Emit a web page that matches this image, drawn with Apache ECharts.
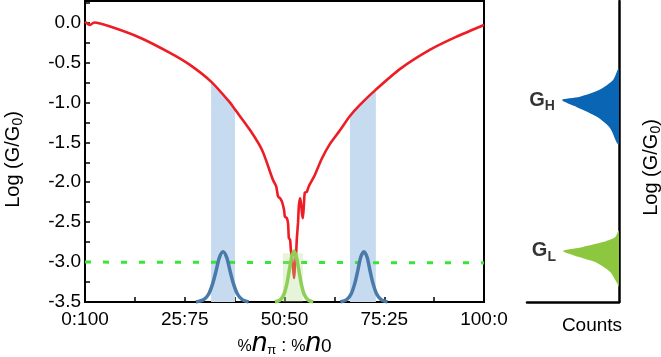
<!DOCTYPE html>
<html>
<head>
<meta charset="utf-8">
<script src="https://cdn.jsdelivr.net/npm/echarts@6/dist/echarts.min.js"></script>
<style>
html, body { margin: 0; padding: 0; background: #fff; }
#chart { width: 661px; height: 357px; }
</style>
</head>
<body>
<div id="chart"></div>
<script>
// tick labels of the mixing axis (% n_pi : % n_0)
const xTickLabels = ['0:100', '25:75', '50:50', '75:25', '100:0'];

// red conductance trace
const curveX = [0, 1.25, 2.3, 6.3, 13.8, 21.3, 26.3, 31.6, 36.3, 37.6, 41.4, 44.4, 47.1, 47.9, 48.4, 48.9,
  49.4, 49.9, 50.1, 50.6, 50.9, 51.1, 51.4, 51.6, 51.9, 52.1, 52.4, 52.6, 52.9, 53.1, 53.4, 53.6, 53.9,
  54.1, 54.4, 54.6, 54.9, 55.1, 55.6, 56.1, 57.4, 59.4, 61.4, 63.9, 66.4, 68.9, 72.9, 79.0, 86.5, 93.0, 100];
const curveY = [0.01, -0.03, 0.0, -0.05, -0.19, -0.38, -0.53, -0.74, -1.0, -1.09, -1.35, -1.6, -1.97, -2.05, -2.18, -2.2,
  -2.25, -2.35, -2.43, -2.45, -2.52, -2.7, -2.72, -2.85, -2.95, -3.05, -3.2, -3.05, -2.9, -2.7, -2.5, -2.3, -2.2,
  -2.25, -2.4, -2.45, -2.25, -2.13, -2.12, -2.05, -1.93, -1.7, -1.52, -1.35, -1.17, -1.03, -0.84, -0.58, -0.34, -0.18, -0.03];

// shaded blue windows (under the trace)
const bandStart = [31.6, 66.4];
const bandEnd = [37.6, 72.9];

// shaded green window
const lowBandX = [49.6, 54.6];
const lowBandTop = -2.89;

// dashed green threshold
const thresholdX = [0, 100];
const thresholdY = [-3.0, -3.01];

// peaks drawn in the main plot
const peakLeftX = [27.8, 29.8, 31.0, 32.0, 32.9, 33.7, 34.6, 35.5, 36.3, 37.2, 38.2, 39.4, 41.0];
const peakLeftY = [-3.5, -3.47, -3.4, -3.27, -3.1, -2.94, -2.87, -2.94, -3.1, -3.27, -3.4, -3.47, -3.5];
const peakRightX = [64.0, 65.6, 66.7, 67.6, 68.4, 69.1, 69.9, 70.7, 71.4, 72.2, 73.1, 74.2, 75.8];
const peakRightY = [-3.5, -3.47, -3.4, -3.27, -3.1, -2.94, -2.87, -2.94, -3.1, -3.27, -3.4, -3.47, -3.5];
const peakMidX = [47.6, 49.0, 49.9, 50.6, 51.2, 51.8, 52.4, 53.0, 53.6, 54.2, 54.9, 55.8, 57.2];
const peakMidY = [-3.5, -3.47, -3.4, -3.27, -3.1, -2.94, -2.86, -2.94, -3.1, -3.27, -3.4, -3.47, -3.5];

// side histogram (counts vs log G)
const histHighCounts = [0, 6.5, 20.7, 42.4, 62, 45.7, 23.9, 9.8, 2.2, 0];
const histHighLog = [-0.57, -0.72, -0.84, -0.93, -0.97, -1.06, -1.18, -1.32, -1.51, -1.53];
const histLowCounts = [0, 4.3, 17.4, 39.1, 60.9, 42.4, 23.9, 9.8, 2.2, 0];
const histLowLog = [-2.6, -2.69, -2.75, -2.81, -2.86, -2.94, -3.01, -3.12, -3.26, -3.31];
const histLabels = ['H', 'L'];
const histTipCounts = [62, 60.9];
const histTipLog = [-0.97, -2.86];

const font = 'Liberation Sans, Arial, Helvetica, sans-serif';
const zip = (xs, ys) => xs.map((x, i) => [x, ys[i]]);
const curve = zip(curveX, curveY);
const band = i => curve.filter(p => p[0] >= bandStart[i] && p[0] <= bandEnd[i]);

const polygonSeries = (counts, logs, color) => ({
  type: 'custom',
  xAxisIndex: 1,
  yAxisIndex: 1,
  clip: true,
  silent: true,
  data: zip(counts, logs),
  encode: { x: 0, y: 1 },
  renderItem: (params, api) => {
    if (params.dataIndexInside !== 0) return null;
    const pts = [];
    for (let i = 0; i < params.dataInsideLength; i++) {
      pts.push(api.coord([api.value(0, i), api.value(1, i)]));
    }
    return { type: 'polygon', shape: { points: pts, smooth: 0.25 }, style: { fill: color } };
  }
});

const peakSeries = (xs, ys, color) => ({
  type: 'line',
  data: zip(xs, ys),
  smooth: 0.3,
  symbol: 'none',
  lineStyle: { color: color, width: 3.5 },
  z: 6
});

const logName = {
  a: { fontSize: 20, fontFamily: font, color: '#000' },
  s: { fontSize: 14, fontFamily: font, color: '#000', padding: [10, 0, 0, 0] }
};

const option = {
  animation: false,
  textStyle: { fontFamily: font },
  grid: [
    { left: 85, right: 177, top: 1, bottom: 55, outerBoundsMode: 'none', show: true, borderColor: '#000', borderWidth: 2 },
    { left: 527, right: 42, top: 1, bottom: 55, outerBoundsMode: 'none' }
  ],
  xAxis: [
    {
      gridIndex: 0, type: 'value', min: 0, max: 100, interval: 12.5,
      axisLine: { onZero: false, lineStyle: { color: '#000', width: 2 } },
      axisTick: { inside: true, length: 5, lineStyle: { color: '#000', width: 1.5 } },
      splitLine: { show: false },
      axisLabel: {
        color: '#000', fontSize: 19, fontFamily: font, margin: 8,
        formatter: v => (v % 25 === 0 ? xTickLabels[v / 25] : '')
      },
      name: '{p|%}{n|n}{s|π}{c| : }{p|%}{n|n}{z|0}',
      nameLocation: 'middle',
      nameGap: 27,
      nameMoveOverlap: false,
      nameTextStyle: {
        color: '#000',
        rich: {
          p: { fontSize: 16, fontFamily: font, color: '#000', padding: [8, 0, 0, 0] },
          n: { fontSize: 28, fontFamily: font, fontStyle: 'italic', color: '#000' },
          s: { fontSize: 13, fontFamily: font, color: '#000', padding: [14, 0, 0, 0] },
          c: { fontSize: 18, fontFamily: font, color: '#000', padding: [6, 0, 0, 0] },
          z: { fontSize: 19, fontFamily: font, color: '#000', padding: [8, 0, 0, 0] }
        }
      }
    },
    {
      gridIndex: 1, type: 'value', min: 0, max: 100, inverse: true,
      axisLine: { onZero: false, lineStyle: { color: '#000', width: 2.5 } },
      axisTick: { show: false }, axisLabel: { show: false }, splitLine: { show: false },
      name: 'Counts', nameLocation: 'middle', nameGap: 14,
      nameTextStyle: { color: '#000', fontSize: 19, fontFamily: font, padding: [0, 0, 0, 38] }
    }
  ],
  yAxis: [
    {
      gridIndex: 0, type: 'value', min: -3.5, max: 0.27, interval: 0.25,
      axisLine: { onZero: false, lineStyle: { color: '#000', width: 2 } },
      axisTick: { inside: true, length: 5, lineStyle: { color: '#000', width: 1.5 } },
      splitLine: { show: false },
      axisLabel: {
        color: '#000', fontSize: 19, fontFamily: font, margin: 4,
        formatter: v => (v <= 0 && Math.abs(v * 2 - Math.round(v * 2)) < 1e-6 ? v.toFixed(1) : '')
      },
      name: '{a|Log (G/G}{s|0}{a|)}',
      nameLocation: 'middle', nameRotate: 90, nameGap: 60,
      nameTextStyle: { padding: [0, 16, 0, 0], rich: logName }
    },
    {
      gridIndex: 1, type: 'value', position: 'right', min: -3.5, max: 0.27,
      axisLine: { onZero: false, lineStyle: { color: '#000', width: 2.5 } },
      axisTick: { show: false }, axisLabel: { show: false }, splitLine: { show: false },
      name: '{a|Log (G/G}{s|0}{a|)}',
      nameLocation: 'middle', nameRotate: 90, nameGap: 20,
      nameTextStyle: { padding: [0, 32, 0, 0], rich: logName }
    }
  ],
  series: [
    ...[0, 1].map(i => ({
      type: 'line', data: band(i), symbol: 'none', silent: true, smooth: 0.25,
      lineStyle: { width: 0 },
      areaStyle: { color: '#c6dbef', opacity: 1, origin: 'start' },
      z: 1
    })),
    {
      type: 'line', data: curve, symbol: 'none', smooth: 0.25,
      lineStyle: { color: '#ee1c24', width: 2.6 },
      z: 3
    },
    {
      type: 'line', data: zip(thresholdX, thresholdY), symbol: 'none',
      lineStyle: { color: '#35e635', width: 3, type: [6, 12] },
      z: 4
    },
    {
      type: 'line', data: lowBandX.map(x => [x, lowBandTop]), symbol: 'none', silent: true,
      lineStyle: { width: 0 },
      areaStyle: { color: 'rgba(176, 220, 140, 0.45)', origin: 'start' },
      z: 5
    },
    peakSeries(peakLeftX, peakLeftY, '#4a7aa9'),
    peakSeries(peakRightX, peakRightY, '#4a7aa9'),
    peakSeries(peakMidX, peakMidY, '#8fcf57'),
    polygonSeries(histHighCounts, histHighLog, '#0a66b4'),
    polygonSeries(histLowCounts, histLowLog, '#8dc63f'),
    {
      type: 'scatter', xAxisIndex: 1, yAxisIndex: 1, symbolSize: 0,
      itemStyle: { color: 'transparent' },
      data: zip(histTipCounts, histTipLog),
      label: {
        show: true, position: 'left', distance: 7,
        formatter: p => '{g|G}{s|' + histLabels[p.dataIndex] + '}',
        rich: {
          g: { fontSize: 20, fontWeight: 'bold', fontFamily: font, color: '#000' },
          s: { fontSize: 14, fontWeight: 'bold', fontFamily: font, color: '#000', padding: [12, 0, 0, 0] }
        }
      }
    }
  ]
};

const myChart = echarts.init(document.getElementById('chart'));
myChart.setOption(option);
</script>
</body>
</html>
